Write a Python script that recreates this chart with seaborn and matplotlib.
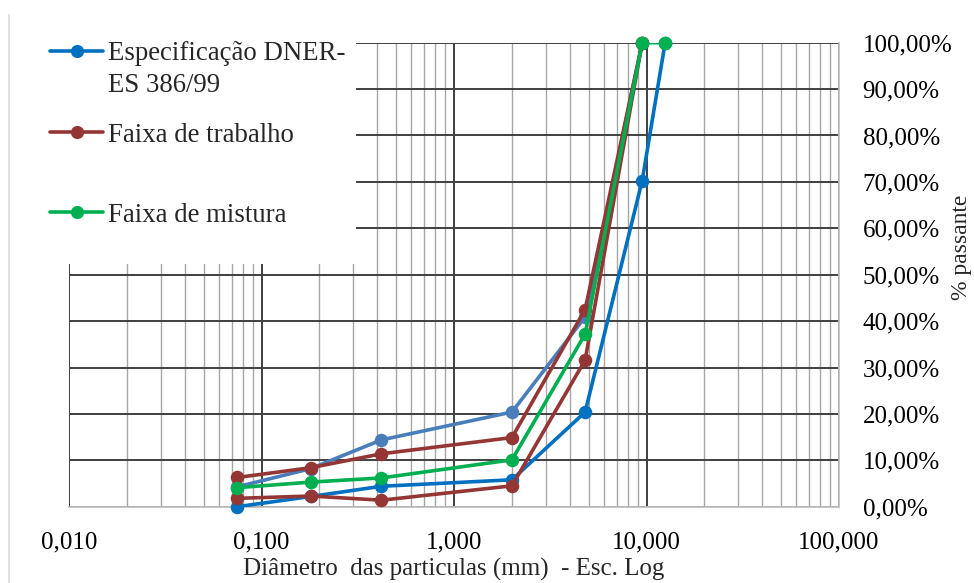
import numpy as np
import pandas as pd
import matplotlib
matplotlib.use("Agg")
import matplotlib.pyplot as plt
import seaborn as sns
from matplotlib.lines import Line2D
from matplotlib.patches import Rectangle
from matplotlib.ticker import LogLocator, FixedLocator, FuncFormatter

# ---------------- data ----------------
sizes_mm = [0.075, 0.18, 0.42, 2.0, 4.8, 9.5, 12.5]
spec_lower = [0.0, 2.2, 4.4, 5.8, 20.4, 70.3, 100.0]          # Especificação DNER-ES 386/99 (limite inferior)
spec_upper = [4.3, 8.2, 14.4, 20.4, 40.9, 100.0]               # limite superior (sem legenda)
work_upper = [6.3, 8.4, 11.4, 14.9, 42.5, 100.0]               # Faixa de trabalho (superior)
work_lower = [1.8, 2.3, 1.4, 4.5, 31.6, 100.0]                 # Faixa de trabalho (inferior)
mix_values = [4.1, 5.3, 6.2, 10.1, 37.2, 100.0, 100.0]         # Faixa de mistura

x_ticks = [0.01, 0.1, 1, 10, 100]
y_ticks = [0, 10, 20, 30, 40, 50, 60, 70, 80, 90, 100]

legend_labels = ["Especificação DNER-", "Faixa de trabalho", "Faixa de mistura"]
legend_label_cont = "ES 386/99"
x_label = "Diâmetro  das particulas (mm)  - Esc. Log"
y_label = "% passante"

C_BLUE = "#0070C0"
C_GBLUE = "#4A7EBB"
C_RED = "#943634"
C_GREEN = "#00B050"

# ---------------- style ----------------
sns.set_style("white")
plt.rcParams["font.family"] = ["Liberation Serif", "DejaVu Serif"]

W, H = 974, 583
fig = plt.figure(figsize=(W / 100, H / 100), dpi=100)
ax = fig.add_axes([69 / W, (H - 506.7) / H, 770 / W, 464 / H])

series = [
    (sizes_mm[:len(spec_upper)], spec_upper, C_GBLUE),
    (sizes_mm, spec_lower, C_BLUE),
    (sizes_mm[:len(work_lower)], work_lower, C_RED),
    (sizes_mm[:len(work_upper)], work_upper, C_RED),
    (sizes_mm, mix_values, C_GREEN),
]

z = 3
for xs, ys, col in series:
    df = pd.DataFrame({"x": xs, "y": ys})
    sns.lineplot(data=df, x="x", y="y", color=col, lw=2.6, ax=ax,
                 sort=False, estimator=None, zorder=z)
    sns.scatterplot(data=df, x="x", y="y", color=col, s=95, linewidth=0,
                    ax=ax, zorder=z + 0.5, clip_on=False)
    z += 1

ax.set_xscale("log")
ax.set_xlim(0.01, 100)
ax.set_ylim(0, 100)

ax.xaxis.set_major_locator(FixedLocator(x_ticks))
ax.xaxis.set_minor_locator(LogLocator(base=10, subs=np.arange(2, 10)))
ax.xaxis.set_major_formatter(FuncFormatter(lambda v, p: f"{v:.3f}".replace(".", ",")))
ax.xaxis.set_minor_formatter(FuncFormatter(lambda v, p: ""))
ax.yaxis.set_major_locator(FixedLocator(y_ticks))
ax.yaxis.set_major_formatter(FuncFormatter(lambda v, p: f"{v:.2f}%".replace(".", ",")))
ax.yaxis.tick_right()

ax.set_axisbelow(True)
ax.grid(which="major", axis="both", color="#404040", lw=1.4)
ax.grid(which="minor", axis="x", color="#A6A6A6", lw=1.0)

for s in ["left", "top"]:
    ax.spines[s].set_visible(False)
for s in ["bottom", "right"]:
    ax.spines[s].set_color("#BFBFBF")
    ax.spines[s].set_linewidth(1.3)

ax.tick_params(axis="x", which="both", length=0, pad=18, labelsize=18, colors="black")
ax.tick_params(axis="y", which="both", length=0, pad=17, labelsize=18, colors="black")
ax.tick_params(axis="y", labelleft=False, labelright=True)
ax.set_xlabel(x_label, fontsize=18, labelpad=3)
ax.set_ylabel("")

# white legend area hiding the grid in the upper-left corner
ax.add_patch(Rectangle((-0.01, 0.523), 0.3827, 0.5, transform=ax.transAxes,
                       facecolor="white", edgecolor="none", zorder=1, clip_on=False))

# legend entries
handles = [
    Line2D([], [], color=C_BLUE, lw=2.6, marker="o", markersize=9.5, markeredgewidth=0),
    Line2D([], [], color=C_RED, lw=2.6, marker="o", markersize=9.5, markeredgewidth=0),
    Line2D([], [], color=C_GREEN, lw=2.6, marker="o", markersize=9.5, markeredgewidth=0),
]
ys_leg = [54, 135, 215]
for h, lab, yy in zip(handles, legend_labels, ys_leg):
    fig.legend([h], [lab], loc="center left", bbox_to_anchor=(50 / W, 1 - yy / H),
               frameon=False, borderpad=0, borderaxespad=0, handlelength=1.98,
               handletextpad=0.2, fontsize=19.3)
fig.text(108 / W, 1 - 85 / H, legend_label_cont, fontsize=19.3, va="center", ha="left")

# y axis title on the far right
fig.text(951 / W, 1 - 247 / H, y_label, rotation=90, fontsize=17, va="center", ha="left")

# chart-area border on the left
fig.add_artist(Line2D([9 / W, 9 / W], [0, 1 - 15 / H], transform=fig.transFigure,
                      color="#D9D9D9", lw=1.2))

fig.savefig("out.png", dpi=100)
